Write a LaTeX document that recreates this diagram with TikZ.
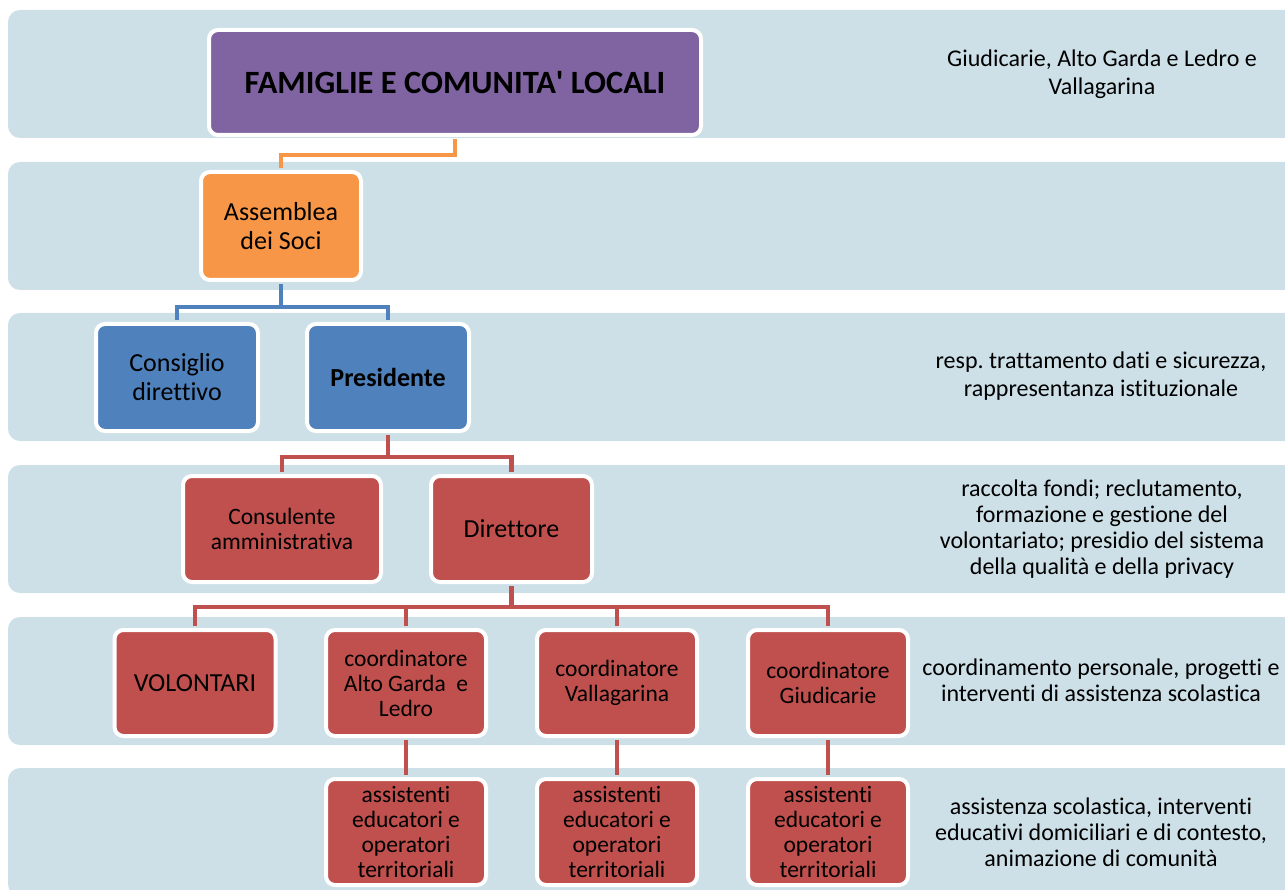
\documentclass[tikz,border=0pt]{standalone}
\usepackage{fontspec}
\setmainfont{Carlito}[Ligatures={NoCommon}]
\usepackage{tikz}
\usetikzlibrary{positioning}
\frenchspacing

\definecolor{bandcol}{RGB}{205,224,231}
\definecolor{famcol}{RGB}{128,100,162}
\definecolor{asscol}{RGB}{247,150,70}
\definecolor{prescol}{RGB}{79,129,189}
\definecolor{dircol}{RGB}{192,80,77}

\begin{document}
\begin{tikzpicture}[x=1pt,y=-1pt,node distance=211pt]
   \tikzstyle{band}=[fill=bandcol,rounded corners=12pt]
   \tikzstyle{box}=[draw=white,line width=4pt,rounded corners=9pt,align=center,
                    text=black,inner sep=2pt,minimum width=161pt,minimum height=106pt,
                    font=\fontsize{26}{29}\selectfont]
   \tikzstyle{small}=[font=\fontsize{23.5}{25}\selectfont]
   \tikzstyle{wire}=[line width=4.5pt,shorten <=2pt,shorten >=2pt]
   \tikzstyle{desc}=[align=center,text=black,font=\fontsize{24}{26}\selectfont]

   \useasboundingbox (0,0) rectangle (1285,890);
   \clip (0,0) rectangle (1285,890);

   % fasce
   \foreach \y in {10,162,313,465,617,768}
      \fill[band] (8,\y) rectangle (1310,\y+128);

   \node[box,fill=famcol,minimum width=492pt,minimum height=105pt,
         font=\bfseries\fontsize{32.5}{36}\selectfont] (A) at (455,82.5) {FAMIGLIE E COMUNITA\textquotesingle{} LOCALI};
   \node[box,fill=asscol,minimum width=160pt,minimum height=108pt] (B) at (281,226) {Assemblea\\dei Soci};
   \node[box,fill=prescol,minimum width=162pt,minimum height=107pt] (C) at (177,377.5) {Consiglio\\direttivo};
   \node[box,fill=prescol,minimum width=162pt,minimum height=107pt] (D) [right of=C] {\textbf{Presidente}};
   \node[box,small,fill=dircol,minimum width=198pt] (E) at (282,529) {Consulente\\amministrativa};
   \node[box,fill=dircol] (F) at (511.5,529) {Direttore};
   \node[box,fill=dircol] (G) at (195,683) {VOLONTARI};
   \node[box,small,fill=dircol,minimum width=160pt] (H) [right of=G] {coordinatore\\Alto Garda~ e\\Ledro};
   \node[box,small,fill=dircol,minimum width=160pt] (I) [right of=H] {coordinatore\\Vallagarina};
   \node[box,small,fill=dircol,minimum width=160pt] (J) [right of=I] {coordinatore\\Giudicarie};
   \node[box,small,fill=dircol,minimum width=160pt,node distance=149pt] (K) [below of=H] {assistenti\\educatori e\\operatori\\territoriali};
   \node[box,small,fill=dircol,minimum width=160pt,node distance=149pt] (L) [below of=I] {assistenti\\educatori e\\operatori\\territoriali};
   \node[box,small,fill=dircol,minimum width=160pt,node distance=149pt] (M) [below of=J] {assistenti\\educatori e\\operatori\\territoriali};

   % descrizioni
   \node[desc,font=\fontsize{24}{28}\selectfont] (N) at (1102,74) {Giudicarie, Alto Garda e Ledro e\\Vallagarina};
   \node[desc,font=\fontsize{24}{28}\selectfont] (O) at (1101,376) {resp. trattamento dati e sicurezza,\\rappresentanza istituzionale};
   \node[desc] (P) at (1102,529) {raccolta fondi; reclutamento,\\formazione e gestione del\\volontariato; presidio del sistema\\della qualità e della privacy};
   \node[desc] (Q) at (1101,680) {coordinamento personale, progetti e\\interventi di assistenza scolastica};
   \node[desc] (R) at (1101,832) {assistenza scolastica, interventi\\educativi domiciliari e di contesto,\\animazione di comunità};

   % collegamenti
   \draw[wire,asscol] (A.south) -- ++(0,18) -| (B.north);

   \draw[wire,prescol] (B.south) -- ++(0,25) coordinate (b1);
   \draw[wire,prescol] (C.north) |- (b1) -| (D.north);

   \draw[wire,dircol] (D.south) -- ++(0,24) coordinate (d1);
   \draw[wire,dircol] (E.north) |- (d1) -| (F.north);

   \draw[wire,dircol] (F.south) -- ++(0,23) coordinate (f1);
   \draw[wire,dircol] (G.north) |- (f1) -| (J.north);
   \draw[wire,dircol] (H.north) -- (H.north |- f1);
   \draw[wire,dircol] (I.north) -- (I.north |- f1);

   \draw[wire,dircol] (H.south) -- (K.north);
   \draw[wire,dircol] (I.south) -- (L.north);
   \draw[wire,dircol] (J.south) -- (M.north);
\end{tikzpicture}
\end{document}
